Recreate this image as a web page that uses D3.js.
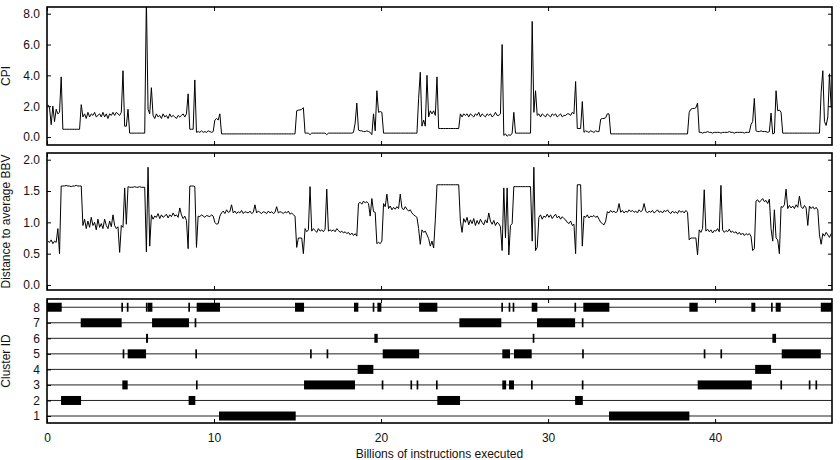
<!DOCTYPE html>
<html>
<head>
<meta charset="utf-8">
<script src="https://cdn.jsdelivr.net/npm/d3@7"></script>
<style>
  html, body { margin: 0; padding: 0; background: #fff; }
  svg { display: block; font-family: "Liberation Sans", Arial, sans-serif; }
</style>
</head>
<body>
<div id="chart"></div>
<script>
// One sample per 100M-instruction interval
const step = 0.1;

// CPI per interval (one line = 1 billion instructions)
const cpiValues = [
  2.1, 1.9, 0.8, 2.0, 1.0, 1.8, 1.5, 1.6, 3.9, 0.5,
  0.5, 0.5, 0.5, 0.5, 0.5, 0.5, 0.5, 0.5, 0.5, 0.5,
  2.1, 1.3, 1.5, 1.2, 1.6, 1.3, 1.5, 1.4, 1.6, 1.3,
  1.4, 1.5, 1.3, 1.6, 1.3, 1.5, 1.2, 1.5, 1.4, 1.6,
  1.4, 1.6, 1.5, 1.4, 1.6, 4.3, 0.7, 0.7, 1.8, 0.25,
  0.25, 0.25, 0.25, 0.25, 0.25, 0.25, 0.25, 0.25, 0.25, 9.0,
  1.8, 1.5, 3.2, 1.4, 1.2, 1.5, 1.3, 1.4, 1.2, 1.5,
  1.3, 1.4, 1.2, 1.5, 1.3, 1.4, 1.3, 1.2, 1.4, 1.3,
  1.4, 1.5, 1.3, 1.5, 2.8, 0.5, 0.5, 0.5, 3.7, 0.3,
  0.35, 0.3, 0.4, 0.3, 0.35, 0.3, 0.4, 0.35, 0.3, 0.35,
  1.1, 1.2, 1.1, 1.5, 0.2, 0.2, 0.2, 0.2, 0.2, 0.2,
  0.2, 0.2, 0.2, 0.2, 0.2, 0.2, 0.2, 0.2, 0.2, 0.2,
  0.2, 0.2, 0.2, 0.2, 0.2, 0.2, 0.2, 0.2, 0.2, 0.2,
  0.2, 0.2, 0.2, 0.2, 0.2, 0.2, 0.2, 0.2, 0.2, 0.2,
  0.2, 0.2, 0.2, 0.2, 0.2, 0.2, 0.2, 0.2, 0.2, 1.7,
  1.75, 1.75, 1.8, 1.9, 0.25, 0.25, 0.25, 0.15, 0.25, 0.25,
  0.25, 0.25, 0.25, 0.25, 0.25, 0.25, 0.25, 0.15, 0.25, 0.25,
  0.25, 0.25, 0.25, 0.25, 0.25, 0.25, 0.25, 0.25, 0.25, 0.25,
  0.25, 0.25, 0.25, 0.3, 0.9, 2.2, 0.45, 0.4, 0.4, 0.35,
  0.35, 0.4, 0.35, 0.3, 0.15, 1.5, 0.4, 3.0, 1.6, 1.65,
  1.6, 0.25, 0.25, 0.25, 0.25, 0.25, 0.25, 0.25, 0.25, 0.25,
  0.25, 0.25, 0.25, 0.25, 0.25, 0.25, 0.25, 0.25, 0.25, 0.25,
  0.25, 0.25, 2.5, 4.2, 0.7, 1.1, 0.7, 4.0, 1.3, 1.7,
  1.5, 1.7, 1.4, 3.9, 0.55, 0.55, 0.55, 0.55, 0.55, 0.55,
  0.55, 0.55, 0.55, 0.55, 0.55, 0.55, 0.55, 1.5, 1.3, 1.5,
  1.4, 1.5, 1.3, 1.5, 1.4, 1.3, 1.5, 1.4, 1.6, 1.3,
  1.5, 1.4, 1.3, 1.5, 1.4, 1.5, 1.3, 1.4, 1.6, 1.4,
  1.4, 1.5, 6.0, 0.1, 0.2, 0.05, 0.15, 0.1, 0.25, 1.6,
  0.25, 0.25, 0.25, 0.25, 0.25, 0.25, 0.25, 0.25, 0.25, 0.25,
  7.5, 1.6, 3.0, 1.4, 1.5, 1.3, 1.5, 1.4, 1.3, 1.5,
  1.4, 1.3, 1.5, 1.4, 1.5, 1.3, 1.4, 1.5, 1.3, 1.4,
  1.4, 1.5, 1.5, 1.4, 1.6, 1.5, 3.6, 0.55, 0.55, 0.55,
  2.3, 0.3, 0.4, 0.35, 0.3, 0.4, 0.35, 0.3, 0.4, 0.35,
  0.35, 1.15, 1.2, 1.2, 1.25, 1.5, 1.5, 0.2, 0.2, 0.2,
  0.2, 0.2, 0.2, 0.2, 0.2, 0.2, 0.2, 0.2, 0.2, 0.2,
  0.2, 0.2, 0.2, 0.2, 0.2, 0.2, 0.2, 0.2, 0.2, 0.2,
  0.2, 0.2, 0.2, 0.2, 0.2, 0.2, 0.2, 0.2, 0.2, 0.2,
  0.2, 0.2, 0.2, 0.2, 0.2, 0.2, 0.2, 0.2, 0.2, 0.2,
  0.2, 0.2, 0.2, 0.2, 1.6, 1.8, 1.85, 1.85, 1.9, 2.2,
  0.3, 0.3, 0.25, 0.3, 0.3, 0.35, 0.3, 0.3, 0.25, 0.3,
  0.3, 0.3, 0.3, 0.25, 0.3, 0.3, 0.3, 0.3, 0.35, 0.3,
  0.3, 0.25, 0.3, 0.3, 0.3, 0.3, 0.3, 0.25, 0.3, 0.3,
  0.3, 0.8, 1.0, 2.5, 0.4, 0.35, 0.35, 0.4, 0.35, 0.35,
  0.35, 0.3, 0.35, 1.55, 0.2, 0.25, 3.0, 1.7, 1.75, 1.6,
  0.25, 0.25, 0.25, 0.25, 0.25, 0.25, 0.25, 0.25, 0.25, 0.25,
  0.25, 0.25, 0.25, 0.25, 0.25, 0.25, 0.25, 0.25, 0.25, 0.25,
  0.25, 0.25, 0.25, 2.9, 4.3, 1.0, 0.75, 1.3, 4.1, 1.9
];

// Distance to average BBV per interval
const bbvValues = [
  0.7, 0.68, 0.72, 0.66, 0.7, 0.68, 0.9, 0.5, 1.58, 1.58,
  1.58, 1.59, 1.58, 1.58, 1.57, 1.58, 1.58, 1.59, 1.58, 1.58,
  1.58, 0.95, 1.05, 0.9, 1.02, 0.92, 1.08, 0.95, 1.0, 0.88,
  1.05, 0.92, 0.98, 0.9, 1.05, 0.95, 0.9, 1.02, 0.93, 1.12,
  0.95, 0.9, 0.93, 0.52, 0.95, 0.92, 1.55, 0.97, 1.57, 1.56,
  1.56, 1.56, 1.57, 1.56, 1.56, 1.57, 1.56, 1.56, 1.56, 0.53,
  1.88, 0.62, 1.12, 1.05, 1.1, 1.08, 1.14, 1.06, 1.12, 1.08,
  1.1, 1.13, 1.07, 1.12, 1.09, 1.15, 1.1, 1.12, 1.08, 1.23,
  1.12, 1.06, 1.1, 1.03, 0.58, 1.58, 1.58, 1.58, 1.57, 0.6,
  1.1, 1.09, 1.12, 1.1, 1.08, 1.11, 1.1, 1.09, 1.12, 1.1,
  1.0, 0.97, 0.98, 1.1, 1.15, 1.18, 1.14, 1.2, 1.16, 1.17,
  1.28, 1.15, 1.18, 1.14, 1.17, 1.15, 1.19, 1.14, 1.17, 1.16,
  1.15, 1.18, 1.14, 1.16, 1.28, 1.15, 1.18, 1.16, 1.14, 1.17,
  1.16, 1.14, 1.18, 1.15, 1.17, 1.14, 1.16, 1.25, 1.15, 1.17,
  1.16, 1.14, 1.17, 1.15, 1.18, 1.13, 1.15, 1.12, 1.1, 0.6,
  0.75, 0.75, 0.75, 0.5, 0.9, 0.85, 0.88, 1.57, 0.86, 0.9,
  0.87, 0.84, 0.9, 0.86, 0.88, 0.85, 0.89, 1.53, 0.86, 0.88,
  0.86, 0.88, 0.85, 0.9, 0.87, 0.84, 0.86, 0.83, 0.85, 0.82,
  0.84, 0.8, 0.83, 0.79, 0.82, 0.78, 1.3, 1.32, 1.29, 1.34,
  1.31, 1.33, 1.3, 1.1, 1.38, 1.17, 1.16, 0.66, 0.68, 0.66,
  0.7, 1.3, 1.25, 1.45, 1.22, 1.26, 1.2, 1.24, 1.21, 1.25,
  1.22, 1.45, 1.23, 1.2, 1.25, 1.21, 1.18, 1.2, 1.15, 1.12,
  1.1, 1.08, 0.9, 0.65, 0.88, 0.84, 0.86, 0.8, 0.74, 0.62,
  0.7, 0.59, 1.04, 1.6, 1.6, 1.6, 1.6, 1.6, 1.6, 1.6,
  1.6, 1.6, 1.6, 1.6, 1.6, 1.6, 1.6, 1.02, 0.84, 1.06,
  1.0, 1.08, 0.96, 1.04, 0.98, 1.06, 0.95, 1.03, 0.97, 1.05,
  1.0, 0.96, 1.04, 0.99, 1.15, 1.02, 0.97, 1.03, 0.95, 1.0,
  0.98, 0.93, 0.55, 1.55, 0.75, 1.55, 0.48, 0.95, 0.98, 1.57,
  1.57, 1.57, 1.57, 1.57, 1.57, 1.57, 1.57, 1.57, 1.57, 1.57,
  0.7, 1.88, 0.55, 0.6, 1.08, 1.12, 1.05, 1.1, 1.08, 1.13,
  1.08, 1.12, 1.06, 1.1, 1.13, 1.07, 1.1, 1.05, 1.09, 1.06,
  1.04, 1.0, 0.98, 1.02, 0.95, 0.97, 0.5, 1.6, 1.6, 1.6,
  0.62, 1.1, 1.08, 1.12, 1.07, 1.1, 1.09, 1.11, 1.08, 1.1,
  1.05, 1.0, 0.98, 0.96, 1.02, 1.17, 1.15, 1.19, 1.16, 1.18,
  1.15, 1.18, 1.3, 1.16, 1.19, 1.15, 1.18, 1.16, 1.2, 1.17,
  1.19, 1.16, 1.18, 1.15, 1.2, 1.17, 1.19, 1.3, 1.18, 1.15,
  1.18, 1.16, 1.19, 1.15, 1.17, 1.2, 1.16, 1.18, 1.15, 1.19,
  1.17, 1.2, 1.16, 1.14, 1.18, 1.15, 1.17, 1.14, 1.19, 1.16,
  1.18, 1.15, 1.19, 1.16, 0.72, 0.75, 0.75, 0.75, 0.75, 0.48,
  0.88, 0.84, 0.9, 1.52, 0.86, 0.89, 0.85, 0.88, 0.83, 0.87,
  0.86, 0.9, 0.85, 1.59, 0.88, 0.84, 0.87, 0.85, 0.89, 0.84,
  0.86, 0.83, 0.85, 0.81, 0.84, 0.8, 0.83, 0.79, 0.82, 0.8,
  0.82, 0.78, 0.55, 0.58, 1.34, 1.36, 1.32, 1.35, 1.38, 1.33,
  1.35, 1.3, 1.37, 0.9, 0.7, 1.2, 0.75, 0.72, 0.5, 1.25,
  1.24, 1.28, 1.53, 1.22, 1.27, 1.23, 1.26, 1.22, 1.28, 1.24,
  1.42, 1.25, 1.22, 1.27, 1.23, 0.95, 1.26, 1.22, 1.25, 1.21,
  1.24, 1.2, 0.8, 0.65, 0.82, 0.78, 0.84, 0.8, 0.76, 0.82
];

// [cluster id, start, end] in billions of instructions
const clusterSegments = [
  [8, 0.0, 0.88], [8, 4.45, 4.55], [8, 4.78, 4.88], [8, 5.92, 6.02], [8, 6.03, 6.31],
  [8, 8.46, 8.56], [8, 8.96, 10.36], [8, 14.85, 15.39], [8, 18.38, 18.64], [8, 19.5, 19.6],
  [8, 19.78, 20.02], [8, 22.28, 23.37], [8, 27.2, 27.3], [8, 27.64, 27.74], [8, 27.88, 27.98],
  [8, 29.02, 29.36], [8, 31.58, 31.68], [8, 32.11, 33.67], [8, 38.46, 38.96], [8, 42.17, 42.41],
  [8, 43.35, 43.45], [8, 43.63, 43.93], [8, 46.33, 47.0],
  [7, 2.02, 4.47], [7, 6.29, 8.5], [7, 8.84, 8.94], [7, 24.69, 27.2], [7, 29.34, 31.62], [7, 32.02, 32.12],
  [6, 5.93, 6.05], [6, 19.6, 19.8], [6, 29.08, 29.18], [6, 43.43, 43.65],
  [5, 4.53, 4.63], [5, 4.83, 5.93], [5, 8.88, 8.98], [5, 15.75, 15.85], [5, 16.74, 16.84],
  [5, 20.1, 22.28], [5, 27.26, 27.72], [5, 27.96, 29.02], [5, 32.04, 32.14], [5, 39.32, 39.42],
  [5, 40.32, 40.42], [5, 43.99, 46.33],
  [4, 18.6, 19.54], [4, 42.4, 43.35],
  [3, 4.51, 4.83], [3, 8.92, 9.02], [3, 15.39, 18.44], [3, 20.04, 20.14], [3, 21.76, 21.86],
  [3, 22.13, 22.23], [3, 23.29, 23.39], [3, 27.26, 27.49], [3, 27.66, 27.96], [3, 28.98, 29.08],
  [3, 32.02, 32.12], [3, 38.96, 42.2], [3, 43.91, 44.01], [3, 45.61, 45.71], [3, 46.01, 46.11],
  [2, 0.84, 2.04], [2, 8.48, 8.88], [2, 23.37, 24.73], [2, 31.62, 32.08],
  [1, 10.3, 14.89], [1, 33.65, 38.46]
];

const xTicks = [0, 10, 20, 30, 40];
const cpiTicks = [0, 2, 4, 6, 8];
const bbvTicks = [0, 0.5, 1, 1.5, 2];
const clusterIds = [1, 2, 3, 4, 5, 6, 7, 8];

// Layout
const width = 840, height = 460;
const plotLeft = 47, plotRight = 832;
const fontSize = 12;

const svg = d3.select('#chart')
    .append('svg')
    .attr('width', width)
    .attr('height', height);

const x = d3.scaleLinear()
    .domain([0, 47])
    .range([plotLeft, plotRight]);

const panels = [
    { id: 'cpi', top: 7, bottom: 145, domain: [-0.52, 8.435], ticks: cpiTicks,
      fmt: d3.format('.1f'), title: 'CPI', values: cpiValues },
    { id: 'bbv', top: 153, bottom: 290, domain: [-0.08, 2.107], ticks: bbvTicks,
      fmt: d3.format('.1f'), title: 'Distance to average BBV', values: bbvValues },
    { id: 'cluster', top: 299, bottom: 423, domain: [0.55, 8.53], ticks: clusterIds,
      fmt: d3.format('d'), title: 'Cluster ID' }
];

const defs = svg.append('defs');

panels.forEach((p, pi) => {
    const y = d3.scaleLinear()
        .domain(p.domain)
        .range([p.bottom, p.top]);

    const g = svg.append('g').attr('class', `panel-${p.id}`);

    defs.append('clipPath')
        .attr('id', `clip-${p.id}`)
        .append('rect')
        .attr('x', plotLeft)
        .attr('y', p.top)
        .attr('width', plotRight - plotLeft)
        .attr('height', p.bottom - p.top);

    const body = g.append('g').attr('clip-path', `url(#clip-${p.id})`);

    if (p.values) {
        // Series line
        const line = d3.line()
            .x((d, i) => x((i + 0.5) * step))
            .y(d => y(d));

        body.append('path')
            .datum(p.values)
            .attr('fill', 'none')
            .attr('stroke', '#000')
            .attr('stroke-width', 1)
            .attr('stroke-linejoin', 'miter')
            .attr('d', line);
    } else {
        // Row guide lines
        body.selectAll('.row-line')
            .data(clusterIds)
            .enter()
            .append('line')
            .attr('class', 'row-line')
            .attr('x1', plotLeft)
            .attr('x2', plotRight)
            .attr('y1', d => y(d))
            .attr('y2', d => y(d))
            .attr('stroke', '#222')
            .attr('stroke-width', 1);

        // Cluster occupancy bars
        body.selectAll('.seg')
            .data(clusterSegments)
            .enter()
            .append('rect')
            .attr('class', 'seg')
            .attr('x', d => x(d[1]))
            .attr('width', d => Math.max(x(d[2]) - x(d[1]), 1.6))
            .attr('y', d => y(d[0]) - 4.5)
            .attr('height', 9)
            .attr('fill', '#000');
    }

    // Inward ticks on all four sides
    const left = g.append('g')
        .attr('transform', `translate(${plotLeft},0)`)
        .call(d3.axisLeft(y).tickValues(p.ticks).tickSize(-4).tickPadding(7).tickFormat(p.fmt));

    const right = g.append('g')
        .attr('transform', `translate(${plotRight},0)`)
        .call(d3.axisRight(y).tickValues(p.id === 'cluster' ? [] : p.ticks).tickSize(-4).tickFormat(''));

    const top = g.append('g')
        .attr('transform', `translate(0,${p.top})`)
        .call(d3.axisTop(x).tickValues(xTicks).tickSize(-4).tickFormat(''));

    const isLast = pi === panels.length - 1;
    const bottom = g.append('g')
        .attr('transform', `translate(0,${p.bottom})`)
        .call(d3.axisBottom(x).tickValues(xTicks).tickSize(-4).tickPadding(10)
            .tickFormat(isLast ? d3.format('d') : ''));

    [left, right, top, bottom].forEach(a => {
        a.select('.domain').remove();
        a.selectAll('.tick line').attr('stroke', '#000').attr('stroke-width', 1);
        a.selectAll('text')
            .attr('font-size', fontSize)
            .attr('font-family', '"Liberation Sans", Arial, sans-serif')
            .attr('fill', '#111');
    });

    // Frame
    g.append('rect')
        .attr('x', plotLeft)
        .attr('y', p.top)
        .attr('width', plotRight - plotLeft)
        .attr('height', p.bottom - p.top)
        .attr('fill', 'none')
        .attr('stroke', '#000')
        .attr('stroke-width', 1.6);

    // Y axis title
    g.append('text')
        .attr('transform', `translate(10,${(p.top + p.bottom) / 2}) rotate(-90)`)
        .attr('text-anchor', 'middle')
        .attr('font-size', fontSize)
        .attr('fill', '#111')
        .text(p.title);
});

// X axis title
svg.append('text')
    .attr('x', (plotLeft + plotRight) / 2)
    .attr('y', 458)
    .attr('text-anchor', 'middle')
    .attr('font-size', fontSize)
    .attr('fill', '#111')
    .text('Billions of instructions executed');
</script>
</body>
</html>
